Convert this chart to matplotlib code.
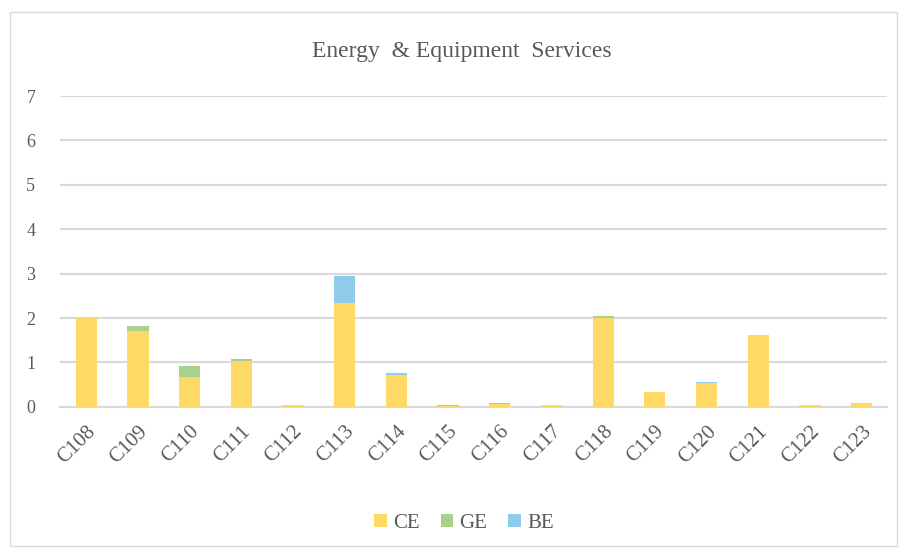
import matplotlib.pyplot as plt
import numpy as np
from matplotlib.patches import Rectangle

categories = ["C108", "C109", "C110", "C111", "C112", "C113", "C114", "C115",
              "C116", "C117", "C118", "C119", "C120", "C121", "C122", "C123"]
ce = [2.00, 1.70, 0.68, 1.03, 0.05, 2.34, 0.72, 0.01,
      0.06, 0.04, 2.01, 0.34, 0.53, 1.61, 0.04, 0.09]
ge = [0.00, 0.13, 0.25, 0.04, 0.00, 0.00, 0.00, 0.04,
      0.03, 0.00, 0.03, 0.00, 0.00, 0.00, 0.00, 0.00]
be = [0.00, 0.00, 0.00, 0.00, 0.00, 0.60, 0.05, 0.00,
      0.00, 0.00, 0.00, 0.00, 0.03, 0.00, 0.00, 0.00]
series_names = ["CE", "GE", "BE"]
colors = ["#FFD966", "#A9D18E", "#8FCBEA"]

plt.rcParams['font.family'] = ['Liberation Serif', 'DejaVu Serif']

fig = plt.figure(figsize=(9.01, 5.49), dpi=100)
ax = fig.add_axes([0.067, 0.259, 0.918, 0.566])

x = np.arange(len(categories))
width = 0.41
ce = np.array(ce)
ge = np.array(ge)
be = np.array(be)
ax.bar(x, ce, width, color=colors[0], label=series_names[0], zorder=3)
ax.bar(x, ge, width, bottom=ce, color=colors[1], label=series_names[1], zorder=3)
ax.bar(x, be, width, bottom=ce + ge, color=colors[2], label=series_names[2], zorder=3)

ax.set_xlim(-0.5, len(categories) - 0.5)
ax.set_ylim(0, 7)
ax.set_yticks(range(0, 8))
ax.yaxis.grid(True, color='#D9D9D9', linewidth=1.5, zorder=0)
ax.set_axisbelow(True)
for s in ['top', 'right', 'left']:
    ax.spines[s].set_visible(False)
ax.spines['bottom'].set_color('#D9D9D9')
ax.spines['bottom'].set_linewidth(1.5)
ax.tick_params(axis='both', length=0, colors='#595959', labelsize=13)
ax.tick_params(axis='y', pad=18)
ax.tick_params(axis='x', pad=11, labelsize=15)
ax.set_xticks(x)
ax.set_xticklabels(categories, rotation=45, ha='right', rotation_mode='anchor')

fig.text(0.513, 0.907, "Energy  & Equipment  Services", ha='center', va='center',
         fontsize=17, color='#595959')

ax.legend(loc='center', bbox_to_anchor=(0.488, -0.375), ncol=3, frameon=False,
          fontsize=15, handlelength=0.6, handleheight=0.6, handletextpad=0.3,
          columnspacing=1.0, labelcolor='#595959')

fig.add_artist(Rectangle((0.011, 0.005), 0.985, 0.973, transform=fig.transFigure,
                         fill=False, edgecolor='#D9D9D9', linewidth=1))

fig.savefig('out.png', dpi=100)
